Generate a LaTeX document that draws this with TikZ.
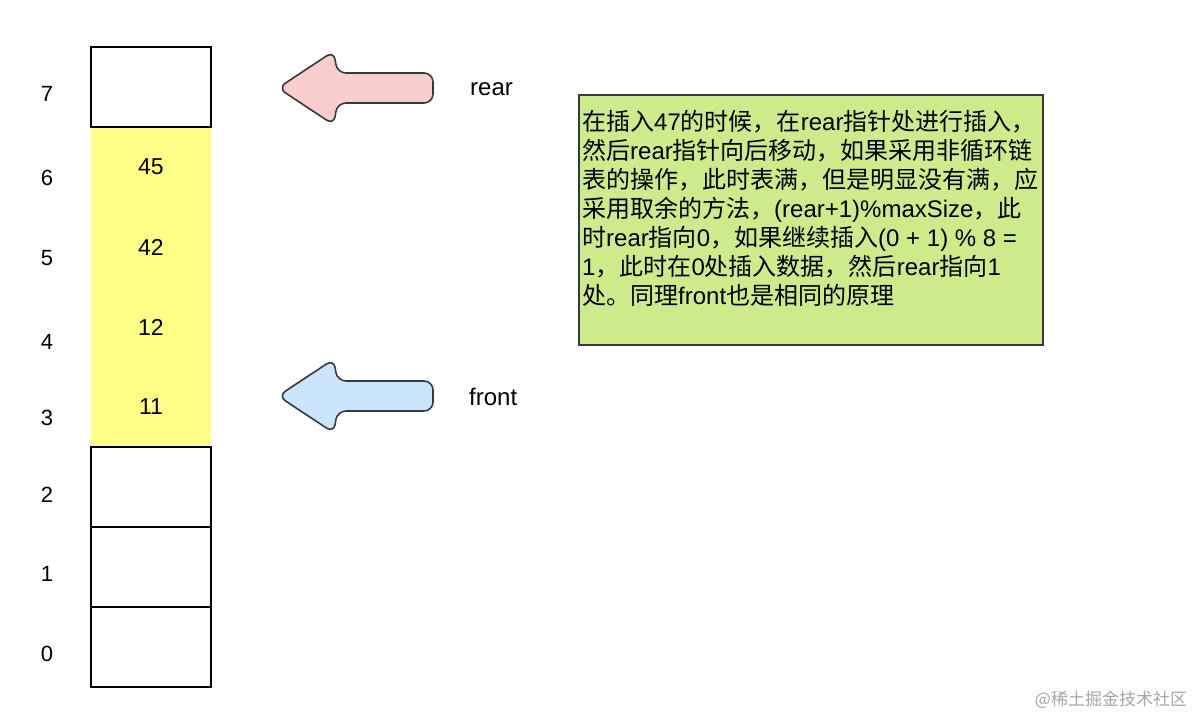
\documentclass[tikz,border=0pt]{standalone}
\usepackage{fontspec}
\setmainfont{Liberation Sans}
\newfontfamily\cjk{Noto Sans CJK SC}
\newcommand\zh[1]{{\cjk #1}}
\definecolor{strokec}{HTML}{36393D}
\definecolor{cellyellow}{HTML}{FFFF88}
\definecolor{notegreen}{HTML}{CDEB8B}
\definecolor{pinkfill}{HTML}{F8CECC}
\definecolor{bluefill}{HTML}{CCE5FF}
\tikzset{
  cellbox/.style={draw=black, line width=1.6pt, fill=white, minimum width=120pt, minimum height=80pt, inner sep=0pt, outer sep=0pt},
  yellowbox/.style={fill=cellyellow, minimum width=120pt, minimum height=80pt, inner sep=0pt, outer sep=0pt, font=\fontsize{23}{23}\selectfont},
  idxlabel/.style={font=\fontsize{22}{22}\selectfont, inner sep=0pt},
  ptrlabel/.style={font=\fontsize{24}{24}\selectfont, inner sep=0pt, anchor=west},
  arrowshape/.style={draw=strokec, line width=1.6pt, rounded corners=9pt},
  notebox/.style={draw=strokec, fill=notegreen, line width=1.6pt, minimum width=464pt, minimum height=250pt, inner sep=0pt, outer sep=0pt},
}
\begin{document}
\begin{tikzpicture}[x=1pt,y=-1pt]
\useasboundingbox (0,0) rectangle (1196,718);
% yellow cells
\node[yellowbox] (c6) at (151,167) {45};
\node[yellowbox] (c5) at (151,247) {42};
\node[yellowbox] (c4) at (151,327) {12};
\node[yellowbox] (c3) at (151,407) {11};
% white cells
\node[cellbox] (c7) at (151,87) {};
\node[cellbox] (c2) at (151,487) {};
\node[cellbox] (c1) at (151,567) {};
\node[cellbox] (c0) at (151,647) {};
% index labels
\node[idxlabel] (i7) at (47,94) {7};
\node[idxlabel] (i6) at (47,178) {6};
\node[idxlabel] (i5) at (47,258) {5};
\node[idxlabel] (i4) at (47,342) {4};
\node[idxlabel] (i3) at (47,418) {3};
\node[idxlabel] (i2) at (47,495) {2};
\node[idxlabel] (i1) at (47,574) {1};
\node[idxlabel] (i0) at (47,654) {0};
% rear arrow
\draw[arrowshape, fill=pinkfill] (278,88) -- (334,51) -- (337,73) -- (433,73) -- (433,103) -- (337,103) -- (334,125) -- cycle;
\node[ptrlabel] (rear) at (470,89) {rear};
% front arrow
\draw[arrowshape, fill=bluefill] (278,396) -- (334,359) -- (337,381) -- (433,381) -- (433,411) -- (337,411) -- (334,433) -- cycle;
\node[ptrlabel] (front) at (469,397) {front};
% note
\node[notebox] (note) at (811,220) {};
\node[anchor=north west, align=left, inner sep=0pt, font=\fontsize{24}{29}\selectfont] (notetext) at (582,110) {%
\zh{在插入}47\zh{的时候，在}rear\zh{指针处进行插入，}\\
\zh{然后}rear\zh{指针向后移动，如果采用非循环链}\\
\zh{表的操作，此时表满，但是明显没有满，应}\\
\zh{采用取余的方法，}(rear+1)\%maxSize\zh{，此}\\
\zh{时}rear\zh{指向}0\zh{，如果继续插入}(0 + 1) \% 8 =\\
1\zh{，此时在}0\zh{处插入数据，然后}rear\zh{指向}1\\
\zh{处。同理}front\zh{也是相同的原理}};
% watermark
\node[text=black!35, font=\cjk\fontsize{17}{17}\selectfont, inner sep=0pt] (wm) at (1111,700) {@稀土掘金技术社区};
\end{tikzpicture}
\end{document}
